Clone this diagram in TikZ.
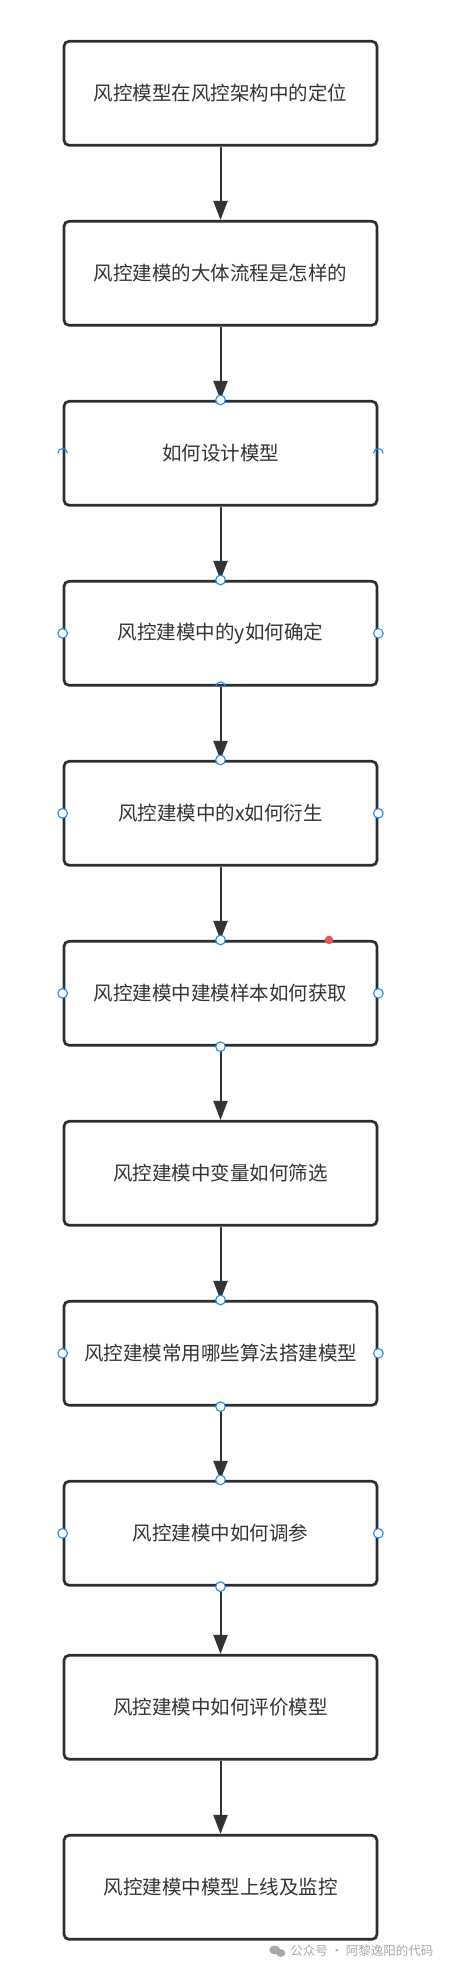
\documentclass[tikz,border=0pt]{standalone}
\usepackage{fontspec}
\setmainfont{Noto Sans CJK SC}
\usepackage{tikz}
\usetikzlibrary{positioning,arrows.meta}
\usepackage{xcolor}
\definecolor{BoxLine}{HTML}{2B2F33}
\definecolor{ArrowGray}{HTML}{333333}
\definecolor{TextGray}{HTML}{333333}
\definecolor{HandleBlue}{HTML}{1E88F5}
\definecolor{DotRed}{HTML}{E85656}
\definecolor{MarkGray}{HTML}{A8A8A8}

\begin{document}
\begin{tikzpicture}[
    node distance=73.3pt,
    box/.style={rectangle, rounded corners=5pt, draw=BoxLine, line width=2.7pt, fill=white,
        minimum width=313pt, minimum height=104pt, inner sep=0pt,
        font=\fontsize{19.5pt}{23pt}\selectfont, text=TextGray, align=center},
    link/.style={-{Triangle[length=19pt, width=14pt]}, draw=ArrowGray, line width=2pt},
    handle/.style={draw=HandleBlue, fill=white, line width=1.1pt}
]
\useasboundingbox (0pt,0pt) rectangle (452pt,-1970pt);
\node[box] at (220.5pt,-93.3pt) (n1) {风控模型在风控架构中的定位};
\node[box, below=of n1] (n2) {风控建模的大体流程是怎样的};
\node[box, below=of n2] (n3) {如何设计模型};
\node[box, below=of n3] (n4) {风控建模中的y如何确定};
\node[box, below=of n4] (n5) {风控建模中的x如何衍生};
\node[box, below=of n5] (n6) {风控建模中建模样本如何获取};
\node[box, below=of n6] (n7) {风控建模中变量如何筛选};
\node[box, below=of n7] (n8) {风控建模常用哪些算法搭建模型};
\node[box, below=of n8] (n9) {风控建模中如何调参};
\node[box, below=67.3pt of n9] (n10) {风控建模中如何评价模型};
\node[box, below=of n10] (n11) {风控建模中模型上线及监控};
\draw[link] (n1) -- (n2);
\draw[link] (n2) -- (n3);
\draw[link] (n3) -- (n4);
\draw[link] (n4) -- (n5);
\draw[link] (n5) -- (n6);
\draw[link] (n6) -- (n7);
\draw[link] (n7) -- (n8);
\draw[link] (n8) -- (n9);
\draw[link] (n9) -- (n10);
\draw[link] (n10) -- (n11);
% connection handles
\foreach \p in {n3.north, n4.north, n4.west, n4.east, n5.north, n5.west, n5.east,
    n6.north, n6.west, n6.east, n6.south, n8.north, n8.west, n8.east, n8.south,
    n9.north, n9.west, n9.east, n9.south}
  \draw[handle] (\p) circle (4.8pt);
\foreach \p in {n3.west, n3.east, n4.south}
  \draw[handle, fill=none] ([xshift=4.8pt]\p) arc[start angle=0, end angle=180, radius=4.8pt];
\fill[DotRed] ([xshift=108.5pt]n6.north) circle (4.3pt);
% watermark
\node[font=\fontsize{12.5pt}{14pt}\selectfont, text=MarkGray, anchor=east] at (437pt,-1951pt) (mark) {公众号 · 阿黎逸阳的代码};
\fill[MarkGray] ([xshift=-12pt,yshift=1pt]mark.west) ellipse (5.5pt and 4.5pt);
\fill[MarkGray] ([xshift=-6pt,yshift=-2pt]mark.west) ellipse (4.5pt and 3.8pt);
\end{tikzpicture}
\end{document}
